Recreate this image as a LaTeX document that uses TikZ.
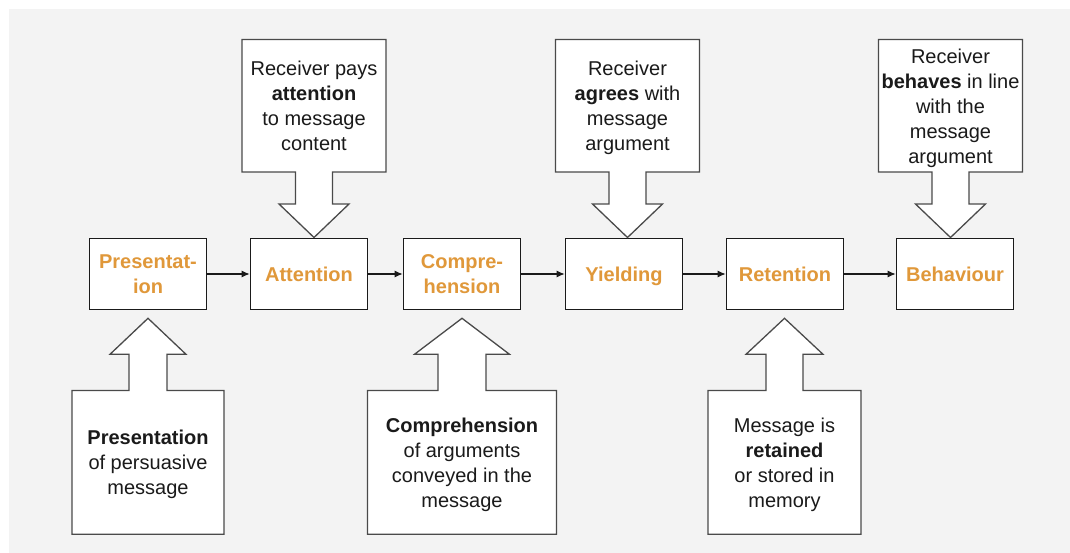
\documentclass[tikz,border=0pt]{standalone}
\usepackage{fontspec}
\setmainfont{Liberation Sans}
\usepackage{xcolor}
\usepackage{tikz}
\usetikzlibrary{arrows.meta}
\definecolor{ink}{HTML}{1A1A1A}
\definecolor{edge}{HTML}{4A4A4A}
\definecolor{amber}{HTML}{E0983A}
\definecolor{paper}{HTML}{F3F3F3}

\begin{document}
\begin{tikzpicture}[x=1pt,y=-1pt,font=\fontsize{20}{25}\selectfont,>={Latex[length=8pt,width=7pt]}]
\tikzset{
  stage/.style={draw=ink,fill=white,line width=1.6pt,minimum width=117pt,minimum height=71pt,inner sep=0pt,align=center,text=amber,font=\fontsize{20}{25}\selectfont\bfseries},
  note/.style={draw=edge,fill=white,line width=1.3pt,line join=miter},
  notetext/.style={align=center,text=ink,inner sep=0pt,text depth=0pt},
  flow/.style={->,draw=ink,line width=1.2pt}
}
\fill[white] (0,0) rectangle (1070,553);
\fill[paper] (9,9) rectangle (1070,553);
\useasboundingbox (0,0) rectangle (1070,553);

% the six stages
\node[stage] (pres) at (148,274) {Presentat-\\ion};
\node[stage] (att) at (309,274) {Attention};
\node[stage] (comp) at (462,274) {Compre-\\hension};
\node[stage,text depth=0pt] (yield) at (624,274) {Yielding};
\node[stage] (ret) at (785,274) {Retention};
\node[stage] (beh) at (955,274) {Behaviour};
\draw[flow] (pres) -- (att);
\draw[flow] (att) -- (comp);
\draw[flow] (comp) -- (yield);
\draw[flow] (yield) -- (ret);
\draw[flow] (ret) -- (beh);

% notes pointing down
\foreach \cx/\nm/\txt in {314/attnote/{Receiver pays\\\textbf{attention}\\to message\\content},
    627.5/yieldnote/{Receiver\\\textbf{agrees} with\\message\\argument},
    950.5/behnote/{Receiver\\\textbf{behaves} in line\\with the\\message\\argument}} {
  \draw[note] (\cx-72,39.5) -- (\cx+72,39.5) -- (\cx+72,172) -- (\cx+18.5,172) -- (\cx+18.5,204)
    -- (\cx+35,204) -- (\cx,237.5) -- (\cx-35,204) -- (\cx-18.5,204) -- (\cx-18.5,172) -- (\cx-72,172) -- cycle;
  \node[notetext] (\nm) at (\cx,106) {\txt};
}

% notes pointing up
\foreach \cx/\rw/\sw/\hw/\nm/\txt in {148/76/19/38/presnote/{\textbf{Presentation}\\of persuasive\\message},
    462/94.5/24/47.5/compnote/{\textbf{Comprehension}\\of arguments\\conveyed in the\\message},
    784.5/76.5/18.5/38.5/retnote/{Message is\\\textbf{retained}\\or stored in\\memory}} {
  \draw[note] (\cx-\rw,534.3) -- (\cx-\rw,390.5) -- (\cx-\sw,390.5) -- (\cx-\sw,354.3) -- (\cx-\hw,354.3)
    -- (\cx,318.3) -- (\cx+\hw,354.3) -- (\cx+\sw,354.3) -- (\cx+\sw,390.5) -- (\cx+\rw,390.5) -- (\cx+\rw,534.3) -- cycle;
  \node[notetext] (\nm) at (\cx,462.5) {\txt};
}
\end{tikzpicture}
\end{document}
